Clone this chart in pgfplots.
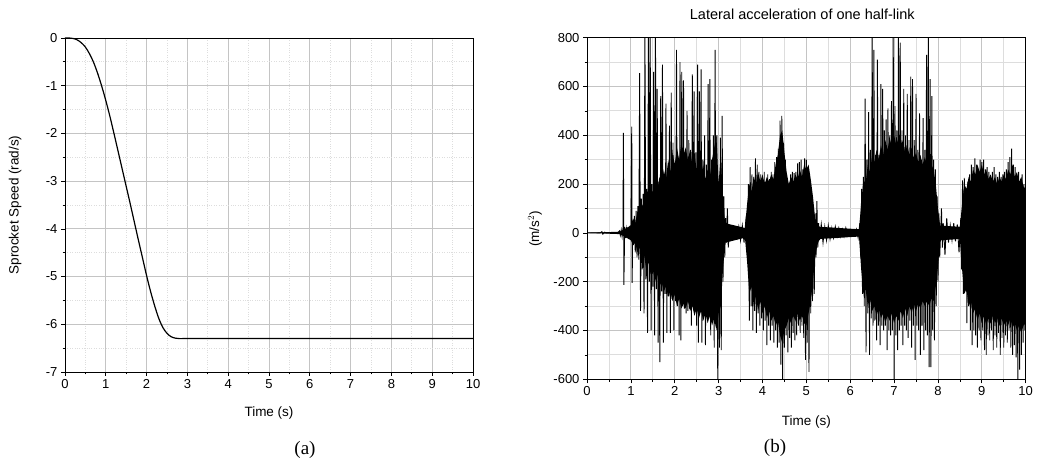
\documentclass[border=0pt]{standalone}
\usepackage{pgfplots}
\pgfplotsset{compat=1.18}
\usepackage{fontspec}
\setmainfont{Liberation Sans}
\newfontfamily\serifcap{Liberation Serif}
\definecolor{majgrid}{HTML}{C4C4C4}
\definecolor{mingrid}{HTML}{DDDDDD}

\pgfplotstableread{
t v
0.0 0
0.1 0
0.2 -0.01
0.3 -0.04
0.4 -0.10
0.5 -0.19
0.6 -0.33
0.7 -0.51
0.8 -0.74
0.9 -1.01
1.0 -1.31
1.1 -1.64
1.2 -2.00
1.3 -2.37
1.4 -2.74
1.5 -3.11
1.6 -3.48
1.7 -3.86
1.8 -4.24
1.9 -4.61
2.0 -4.98
2.1 -5.32
2.2 -5.62
2.3 -5.88
2.4 -6.07
2.5 -6.19
2.6 -6.26
2.7 -6.29
2.8 -6.30
3.0 -6.30
5.0 -6.30
8.0 -6.30
10 -6.30
}\speed

% upper edge of the dense black core
\pgfplotstableread{
t a
0 0
0.75 5
0.80 10
0.90 20
1.00 30
1.05 60
1.10 40
1.15 90
1.20 70
1.25 120
1.30 100
1.35 160
1.40 130
1.45 180
1.50 150
1.55 200
1.60 170
1.65 230
1.70 190
1.75 260
1.80 220
1.85 300
1.90 250
1.95 330
2.00 280
2.05 350
2.10 300
2.15 370
2.20 320
2.25 350
2.30 300
2.35 340
2.40 280
2.45 320
2.50 260
2.55 300
2.60 240
2.65 280
2.70 220
2.75 260
2.80 230
2.85 300
2.90 350
2.95 400
3.00 200
3.05 330
3.10 120
3.15 40
3.60 20
3.65 120
3.70 200
3.75 170
3.80 230
3.85 200
3.90 250
3.95 210
4.00 240
4.05 200
4.10 230
4.15 210
4.20 240
4.25 220
4.30 280
4.35 320
4.40 400
4.45 420
4.50 330
4.55 250
4.60 200
4.65 230
4.70 210
4.75 240
4.80 220
4.85 260
4.90 230
4.95 280
5.00 260
5.05 280
5.10 220
5.15 150
5.20 60
5.25 40
5.30 25
6.20 15
6.25 120
6.30 220
6.35 200
6.40 280
6.45 250
6.50 320
6.55 290
6.60 340
6.65 300
6.70 360
6.75 320
6.80 380
6.85 340
6.90 390
6.95 350
7.00 400
7.05 360
7.10 390
7.15 350
7.20 380
7.25 330
7.30 360
7.35 320
7.40 350
7.45 300
7.50 330
7.55 290
7.60 320
7.65 280
7.70 310
7.75 280
7.80 320
7.85 280
7.90 260
7.95 200
8.00 100
8.05 30
8.50 25
8.55 120
8.60 200
8.65 180
8.70 230
8.75 210
8.80 260
8.85 240
8.90 280
8.95 250
9.00 280
9.05 240
9.10 260
9.15 220
9.20 240
9.25 210
9.30 230
9.35 200
9.40 230
9.45 210
9.50 240
9.55 220
9.60 260
9.65 240
9.70 280
9.75 230
9.80 250
9.85 210
9.90 230
9.95 190
10.00 180
}\coreup

% lower edge of the dense black core
\pgfplotstableread{
t a
0 0
0.75 -5
0.80 -10
0.90 -20
1.00 -30
1.05 -50
1.10 -40
1.15 -80
1.20 -60
1.25 -110
1.30 -90
1.35 -150
1.40 -120
1.45 -170
1.50 -150
1.55 -200
1.60 -170
1.65 -220
1.70 -200
1.75 -240
1.80 -220
1.85 -260
1.90 -240
1.95 -280
2.00 -250
2.05 -300
2.10 -270
2.15 -310
2.20 -290
2.25 -310
2.30 -280
2.35 -320
2.40 -300
2.45 -340
2.50 -310
2.55 -350
2.60 -320
2.65 -360
2.70 -330
2.75 -370
2.80 -340
2.85 -380
2.90 -350
2.95 -400
3.00 -330
3.05 -300
3.10 -150
3.15 -40
3.60 -20
3.65 -120
3.70 -250
3.75 -220
3.80 -300
3.85 -260
3.90 -320
3.95 -280
4.00 -330
4.05 -300
4.10 -350
4.15 -320
4.20 -360
4.25 -340
4.30 -380
4.35 -360
4.40 -420
4.45 -450
4.50 -400
4.55 -380
4.60 -350
4.65 -370
4.70 -340
4.75 -360
4.80 -330
4.85 -360
4.90 -340
4.95 -370
5.00 -380
5.05 -330
5.10 -280
5.15 -200
5.20 -100
5.25 -50
5.30 -25
6.20 -15
6.25 -150
6.30 -250
6.35 -230
6.40 -300
6.45 -270
6.50 -320
6.55 -300
6.60 -340
6.65 -310
6.70 -350
6.75 -330
6.80 -370
6.85 -340
6.90 -360
6.95 -330
7.00 -370
7.05 -340
7.10 -360
7.15 -320
7.20 -350
7.25 -310
7.30 -340
7.35 -300
7.40 -330
7.45 -290
7.50 -320
7.55 -290
7.60 -310
7.65 -280
7.70 -300
7.75 -280
7.80 -300
7.85 -270
7.90 -280
7.95 -220
8.00 -140
8.05 -30
8.50 -25
8.55 -150
8.60 -250
8.65 -230
8.70 -300
8.75 -280
8.80 -330
8.85 -310
8.90 -360
8.95 -330
9.00 -370
9.05 -340
9.10 -380
9.15 -350
9.20 -370
9.25 -340
9.30 -370
9.35 -350
9.40 -380
9.45 -350
9.50 -380
9.55 -360
9.60 -380
9.65 -350
9.70 -390
9.75 -370
9.80 -400
9.85 -380
9.90 -410
9.95 -380
10.00 -370
}\corelo

\pgfplotstableread{
t a
0 0
0.30 0
0.34 5
0.36 -5
0.40 3
0.44 0
0.70 0
0.74 8
0.76 -10
0.78 12
0.80 -15
0.82 20
0.83 410
0.84 -213
0.86 25
0.88 -20
0.90 15
0.92 -20
0.94 25
0.96 -25
0.98 30
1.00 -30
1.02 435
1.03 -205
1.04 40
1.06 -50
1.08 70
1.10 -80
1.12 90
1.14 -100
1.16 110
1.18 -110
1.20 655
1.22 -320
1.24 140
1.26 -150
1.28 160
1.30 -330
1.32 850
1.34 -190
1.36 180
1.38 -410
1.40 850
1.42 -200
1.44 850
1.46 -400
1.48 200
1.50 -220
1.52 660
1.54 -420
1.56 850
1.58 -230
1.60 590
1.62 -450
1.64 210
1.66 -530
1.68 560
1.70 -240
1.72 690
1.74 -450
1.76 230
1.78 -250
1.80 530
1.82 -410
1.84 250
1.86 -260
1.88 440
1.90 -410
1.92 575
1.94 -270
1.96 370
1.98 -400
2.00 280
2.02 -280
2.04 750
2.06 -300
2.08 300
2.10 -420
2.12 700
2.14 -440
2.16 660
2.18 -300
2.20 625
2.22 -310
2.24 330
2.26 -330
2.28 500
2.30 -320
2.32 380
2.34 -310
2.36 340
2.38 -380
2.40 650
2.42 -300
2.44 580
2.46 -310
2.48 330
2.50 -380
2.52 690
2.54 -450
2.56 580
2.58 -320
2.60 670
2.62 -450
2.64 300
2.66 -330
2.68 400
2.70 -460
2.72 280
2.74 -340
2.76 610
2.78 -350
2.80 630
2.82 -420
2.84 300
2.86 -360
2.88 400
2.90 -470
2.92 750
2.94 -380
2.96 400
2.98 -600
3.00 210
3.02 -470
3.04 390
3.06 -480
3.08 480
3.10 -200
3.12 150
3.14 -100
3.16 60
3.18 -40
3.20 100
3.22 -60
3.24 30
3.26 -25
3.30 20
3.34 -20
3.38 15
3.42 -20
3.46 25
3.50 -30
3.54 30
3.58 -40
3.62 50
3.64 80
3.66 -100
3.68 200
3.70 -360
3.72 270
3.74 -300
3.76 240
3.78 -400
3.80 230
3.82 -320
3.84 305
3.86 -410
3.88 280
3.90 -330
3.92 250
3.94 -380
3.96 240
3.98 -350
4.00 230
4.02 -400
4.04 250
4.06 -360
4.08 210
4.10 -460
4.12 240
4.14 -380
4.16 220
4.18 -440
4.20 250
4.22 -380
4.24 240
4.26 -450
4.28 290
4.30 -400
4.32 310
4.34 -470
4.36 345
4.38 -450
4.40 460
4.42 -540
4.44 480
4.46 -600
4.48 370
4.50 -470
4.52 300
4.54 -420
4.56 220
4.58 -490
4.60 200
4.62 -430
4.64 240
4.66 -470
4.68 250
4.70 -410
4.72 245
4.74 -440
4.76 250
4.78 -420
4.80 285
4.82 -380
4.84 290
4.86 -410
4.88 300
4.90 -380
4.92 260
4.94 -430
4.96 305
4.98 -520
5.00 300
5.02 -450
5.04 250
5.06 -570
5.08 200
5.10 -330
5.12 150
5.14 -280
5.16 100
5.18 -250
5.20 80
5.22 -100
5.24 130
5.26 -60
5.28 40
5.30 -30
5.34 35
5.38 -40
5.42 25
5.46 -30
5.50 30
5.54 -25
5.58 20
5.62 -20
5.66 25
5.70 -15
5.74 20
5.78 -15
5.82 15
5.86 -15
5.90 20
5.94 -10
5.98 10
6.02 -10
6.06 10
6.10 -10
6.14 15
6.18 -20
6.22 40
6.24 -100
6.26 180
6.28 -250
6.30 230
6.32 -300
6.34 550
6.36 -490
6.38 300
6.40 -330
6.42 495
6.44 -500
6.46 340
6.48 -350
6.50 850
6.52 -380
6.54 750
6.56 -360
6.58 320
6.60 -440
6.62 710
6.64 -380
6.66 320
6.68 -460
6.70 610
6.72 -380
6.74 590
6.76 -400
6.78 420
6.80 -380
6.82 465
6.84 -480
6.86 510
6.88 -400
6.90 400
6.92 -420
6.94 540
6.96 -400
6.98 850
7.00 -600
7.02 520
7.04 -420
7.06 420
7.08 -480
7.10 850
7.12 -400
7.14 780
7.16 -380
7.18 420
7.20 -460
7.22 590
7.24 -380
7.26 400
7.28 -400
7.30 570
7.32 -430
7.34 380
7.36 -360
7.38 640
7.40 -470
7.42 630
7.44 -380
7.46 380
7.48 -520
7.50 570
7.52 -380
7.54 340
7.56 -400
7.58 490
7.60 -500
7.62 300
7.64 -380
7.66 470
7.68 -480
7.70 340
7.72 -400
7.74 730
7.76 -420
7.78 850
7.80 -550
7.82 630
7.84 -550
7.86 560
7.88 -400
7.90 300
7.92 -440
7.94 260
7.96 -300
7.98 150
8.00 -200
8.02 80
8.04 -100
8.08 100
8.10 -60
8.12 40
8.16 -90
8.20 60
8.24 -40
8.28 30
8.32 -30
8.36 40
8.40 -35
8.44 35
8.48 -80
8.52 60
8.54 -150
8.56 215
8.58 -250
8.60 225
8.62 -200
8.64 140
8.66 -370
8.68 210
8.70 -300
8.72 240
8.74 -400
8.76 280
8.78 -460
8.80 270
8.82 -400
8.84 305
8.86 -420
8.88 280
8.90 -470
8.92 260
8.94 -400
8.96 300
8.98 -440
9.00 290
9.02 -400
9.04 300
9.06 -480
9.08 260
9.10 -500
9.12 270
9.14 -420
9.16 250
9.18 -440
9.20 230
9.22 -400
9.24 250
9.26 -480
9.28 270
9.30 -420
9.32 240
9.34 -470
9.36 230
9.38 -410
9.40 250
9.42 -500
9.44 230
9.46 -430
9.48 240
9.50 -470
9.52 250
9.54 -420
9.56 260
9.58 -450
9.60 290
9.62 -400
9.64 310
9.66 -470
9.68 345
9.70 -500
9.72 280
9.74 -460
9.76 270
9.78 -510
9.80 230
9.82 -600
9.84 250
9.86 -560
9.88 210
9.90 -500
9.92 240
9.94 -450
9.96 200
9.98 -400
10.00 150
}\accel

\pgfplotsset{
  base/.style={
    scale only axis,
    anchor=south west,
    axis line style={black, line width=0.9pt},
    tick style={black, line width=0.7pt},
    tick align=outside,
    major tick length=4pt,
    minor tick length=2.5pt,
    xtick pos=left, ytick pos=left,
    grid=both,
    major grid style={majgrid, line width=0.8pt},
    xmin=0, xmax=10,
    xtick={0,1,...,10},
    minor x tick num=1,
    tick label style={font=\fontsize{13}{15}\selectfont},
    label style={font=\fontsize{13.5}{15}\selectfont},
    /pgf/number format/assume math mode=true,
    clip=true,
  }
}

\begin{document}
\begin{tikzpicture}
\path[use as bounding box] (0,0) rectangle (1042pt,462pt);

\begin{axis}[base,
  at={(65pt,90pt)}, width=408pt, height=334pt,
  ymin=-7, ymax=0, ytick={-7,-6,...,0},
  minor y tick num=1,
  minor grid style={mingrid, dotted, line width=0.7pt},
  xlabel={Time (s)}, ylabel={Sprocket Speed (rad/s)},
  xlabel style={at={(axis description cs:0.5,0)}, anchor=center, yshift=-41pt},
  ylabel style={at={(axis description cs:-0.1225,0.5)}, anchor=center},
]
\addplot[black, line width=1.2pt, smooth] table[x=t, y=v] {\speed};
\end{axis}

\begin{axis}[base,
  at={(587pt,82.7pt)}, width=438.7pt, height=341.6pt,
  ymin=-600, ymax=800, ytick={-600,-400,...,800},
  minor y tick num=1,
  minor grid style={mingrid, line width=0.8pt},
  xlabel={Time (s)}, ylabel={(m/s$^2$)},
  xlabel style={at={(axis description cs:0.5,0)}, anchor=center, yshift=-43pt},
  ylabel style={at={(axis description cs:-0.1185,0.44)}, anchor=center},
  title={Lateral acceleration of one half-link},
  title style={at={(axis description cs:0.5,1)}, anchor=center, yshift=17pt, xshift=-4pt, font=\fontsize{14.5}{16}\selectfont},
]
\addplot[fill=black, draw=none] table[x=t, y=a] {\coreup} \closedcycle;
\addplot[fill=black, draw=none] table[x=t, y=a] {\corelo} \closedcycle;
\addplot[black, line width=0.9pt] table[x=t, y=a] {\accel};
\end{axis}

\node[font=\serifcap\fontsize{19}{21}\selectfont] at (305pt,12pt) {(a)};
\node[font=\serifcap\fontsize{19}{21}\selectfont] at (775pt,14pt) {(b)};
\end{tikzpicture}
\end{document}
